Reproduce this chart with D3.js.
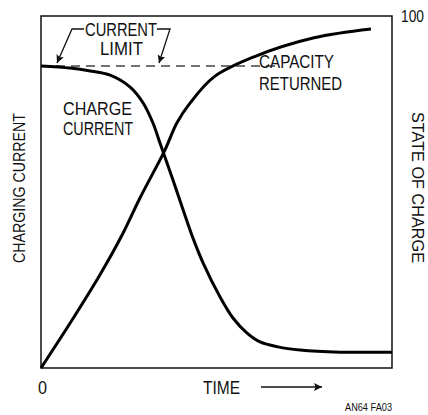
<!DOCTYPE html>
<html>
<head>
<meta charset="utf-8">
<script src="https://cdn.jsdelivr.net/npm/d3@7"></script>
<style>
  body { margin: 0; background: #fff; }
  text { font-family: "Liberation Sans", Arial, sans-serif; fill: #111; }
</style>
</head>
<body>
<div id="chart"></div>
<script>
const WIDTH = 428;
const HEIGHT = 415;
const MARGIN = {top: 16, right: 36, bottom: 47, left: 41};

// time in % of the window, values in % of full scale
const currentTime = [0, 8.3, 14.0, 19.7, 25.4, 29.1, 31.9, 33.9, 35.6, 37.6, 40.5, 43.3, 46.2, 51.0, 54.7, 58.7, 62.4, 67.5, 73.8, 85.2, 100];
const currentValue = [85.8, 85.2, 84.4, 83.2, 79.8, 75.3, 69.6, 63.9, 59.1, 53.4, 44.9, 36.9, 29.8, 20.2, 14.2, 9.9, 7.4, 6.0, 5.1, 4.5, 4.5];
const capacityTime = [0, 9.4, 17.1, 22.8, 28.2, 35.3, 38.7, 42.5, 49.3, 60.7, 77.8, 94.0];
const capacityValue = [0, 14.5, 27.0, 37.2, 48.3, 61.9, 69.6, 75.3, 82.7, 88.4, 93.8, 96.3];
const currentLimit = 85.8;
const limitEnd = 68;

const svg = d3.select("#chart").append("svg")
    .attr("width", WIDTH)
    .attr("height", HEIGHT);

const x = d3.scaleLinear().domain([0, 100]).range([MARGIN.left, WIDTH - MARGIN.right]);
const y = d3.scaleLinear().domain([0, 100]).range([HEIGHT - MARGIN.bottom, MARGIN.top]);

// frame
svg.append("rect")
    .attr("x", x(0)).attr("y", y(100))
    .attr("width", x(100) - x(0)).attr("height", y(0) - y(100))
    .attr("fill", "none").attr("stroke", "#111").attr("stroke-width", 1.5);

// current limit dashed line
svg.append("line")
    .attr("x1", x(0)).attr("x2", x(limitEnd))
    .attr("y1", y(currentLimit)).attr("y2", y(currentLimit))
    .attr("stroke", "#444").attr("stroke-width", 1.4)
    .attr("stroke-dasharray", "9,6");

const line = d3.line()
    .x(d => x(d[0]))
    .y(d => y(d[1]))
    .curve(d3.curveCatmullRom.alpha(0.5));

svg.append("path")
    .attr("d", line(d3.zip(currentTime, currentValue)))
    .attr("fill", "none").attr("stroke", "#000").attr("stroke-width", 3);

svg.append("path")
    .attr("d", line(d3.zip(capacityTime, capacityValue)))
    .attr("fill", "none").attr("stroke", "#000").attr("stroke-width", 3);

// arrow marker
svg.append("defs").append("marker")
    .attr("id", "head")
    .attr("viewBox", "0 0 10 10")
    .attr("refX", 10).attr("refY", 5)
    .attr("markerWidth", 8).attr("markerHeight", 8)
    .attr("markerUnits", "userSpaceOnUse")
    .attr("orient", "auto")
    .append("path").attr("d", "M0,0L10,5L0,10L2,5Z").attr("fill", "#111");

// leaders for CURRENT LIMIT
svg.append("path")
    .attr("d", "M84,29L72,29L57,63")
    .attr("fill", "none").attr("stroke", "#111").attr("stroke-width", 1.3)
    .attr("marker-end", "url(#head)");
svg.append("path")
    .attr("d", "M157,29L170,29L159,63")
    .attr("fill", "none").attr("stroke", "#111").attr("stroke-width", 1.3)
    .attr("marker-end", "url(#head)");

// condensed look: squeeze each label to its width in the reference
const label = (t, px, py, size, len) => {
    const el = svg.append("text")
        .attr("x", px).attr("y", py)
        .attr("font-size", size)
        .text(t);
    if (len) el.attr("textLength", len).attr("lengthAdjust", "spacingAndGlyphs");
    return el;
};

label("CURRENT", 85, 36, 18, 72);
label("LIMIT", 100, 55, 18, 43);
label("CHARGE", 63, 115, 18, 69);
label("CURRENT", 63, 135, 18, 70);
label("CAPACITY", 259, 68, 18, 75);
label("RETURNED", 259, 90, 18, 83);
label("100", 401, 22, 16, 23);
label("0", 38, 394, 18, 9);
label("TIME", 203, 394, 18, 37);
label("AN64 FA03", 345, 411, 11, 47);

// TIME arrow
svg.append("line")
    .attr("x1", 261).attr("x2", 322)
    .attr("y1", 387).attr("y2", 387)
    .attr("stroke", "#111").attr("stroke-width", 1.3)
    .attr("marker-end", "url(#head)");

svg.append("text")
    .attr("transform", "translate(25,263) rotate(-90)")
    .attr("font-size", 17)
    .attr("textLength", 150).attr("lengthAdjust", "spacingAndGlyphs")
    .text("CHARGING CURRENT");

svg.append("text")
    .attr("transform", "translate(412,112) rotate(90)")
    .attr("font-size", 17)
    .attr("textLength", 151).attr("lengthAdjust", "spacingAndGlyphs")
    .text("STATE OF CHARGE");
</script>
</body>
</html>
